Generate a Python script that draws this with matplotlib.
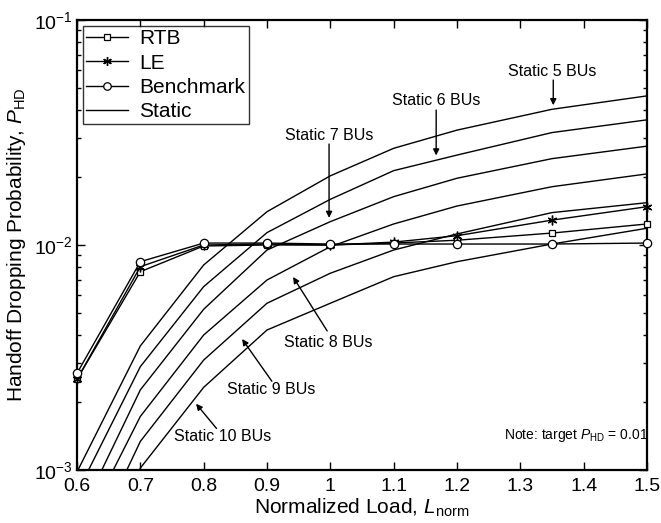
import matplotlib
matplotlib.use("Agg")
import matplotlib.pyplot as plt
import numpy as np
from matplotlib.ticker import LogLocator, FixedLocator, FuncFormatter, NullFormatter

plt.rcParams['font.family'] = ['Liberation Sans', 'DejaVu Sans']
plt.rcParams['mathtext.fontset'] = 'custom'
plt.rcParams['mathtext.rm'] = 'Liberation Sans'
plt.rcParams['mathtext.it'] = 'Liberation Sans:italic'
plt.rcParams['mathtext.bf'] = 'Liberation Sans:bold'

# ---- data ----
load = [0.6, 0.7, 0.8, 0.9, 1.0, 1.1, 1.2, 1.35, 1.5]
rtb = [0.00253, 0.00761, 0.0099, 0.0100, 0.0100, 0.0102, 0.0105, 0.0113, 0.0124]
le = [0.00253, 0.00801, 0.0100, 0.0101, 0.0100, 0.0103, 0.0110, 0.0129, 0.0148]
bench = [0.00269, 0.00843, 0.0102, 0.0102, 0.0101, 0.0101, 0.0101, 0.0101, 0.0102]
static5 = [0.00098, 0.00356, 0.00815, 0.01406, 0.0203, 0.0269, 0.0324, 0.0401, 0.0460]
static6 = [0.00079, 0.00288, 0.00653, 0.01135, 0.01596, 0.0214, 0.0251, 0.0316, 0.0360]
static7 = [0.00059, 0.00227, 0.00518, 0.00950, 0.0127, 0.0164, 0.0198, 0.0242, 0.0275]
static8 = [0.00048, 0.00173, 0.00398, 0.00699, 0.00983, 0.0124, 0.0149, 0.01816, 0.0207]
static9 = [0.00034, 0.00134, 0.00308, 0.00551, 0.00749, 0.0095, 0.0112, 0.01393, 0.01542]
static10 = [0.00022, 0.00102, 0.00233, 0.00419, 0.00551, 0.00723, 0.00843, 0.0101, 0.01187]
statics = [static5, static6, static7, static8, static9, static10]
xticks = [0.6, 0.7, 0.8, 0.9, 1.0, 1.1, 1.2, 1.3, 1.4, 1.5]
xticklabels = ['0.6', '0.7', '0.8', '0.9', '1', '1.1', '1.2', '1.3', '1.4', '1.5']

fig = plt.figure(figsize=(6.61, 5.23), dpi=100)
ax = fig.add_axes([77/661, 1-470/523, 570/661, 450/523])

lw = 1.0
ax.plot(load, rtb, color='black', lw=lw, marker='s', ms=5, mfc='white', mec='black', mew=0.9,
        label='RTB', zorder=4, clip_on=False)
ax.plot(load, le, color='black', lw=lw, marker=(6, 2, 0), ms=7, mec='black', mew=1.0,
        label='LE', zorder=4, clip_on=False)
ax.plot(load, bench, color='black', lw=lw, marker='o', ms=6, mfc='white', mec='black', mew=0.9,
        label='Benchmark', zorder=4, clip_on=False)
for i, s in enumerate(statics):
    ax.plot(load, s, color='black', lw=lw, label='Static' if i == 0 else None, zorder=3)

ax.set_yscale('log')
ax.set_xlim(0.6, 1.5)
ax.set_ylim(1e-3, 1e-1)
ax.xaxis.set_major_locator(FixedLocator(xticks))
ax.set_xticklabels(xticklabels)
ax.yaxis.set_major_locator(LogLocator(base=10, numticks=10))
ax.yaxis.set_minor_locator(LogLocator(base=10, subs=np.arange(2, 10), numticks=20))
ax.yaxis.set_minor_formatter(NullFormatter())
ax.yaxis.set_major_formatter(FuncFormatter(lambda v, p: r'$10^{%d}$' % int(round(np.log10(v)))))
ax.tick_params(which='both', direction='in', top=True, right=True, labelsize=14, width=1.0)
ax.tick_params(which='major', length=6)
ax.tick_params(axis='x', which='major', pad=6)
ax.tick_params(axis='y', which='major', pad=3)
ax.tick_params(which='minor', length=3)
for sp in ax.spines.values():
    sp.set_linewidth(1.6)

ax.set_xlabel(r'Normalized Load, $L_{\mathrm{norm}}$', fontsize=15, labelpad=1)
ax.set_ylabel(r'Handoff Dropping Probability, $P_{\mathrm{HD}}$', fontsize=15, labelpad=4)

leg = ax.legend(loc='upper left', fontsize=15, frameon=True, fancybox=False, edgecolor='black',
                borderpad=0.15, labelspacing=0.25, handlelength=2.0, handletextpad=0.55,
                borderaxespad=0.3, bbox_to_anchor=(0.0, 1.0), markerscale=0.9)
leg.get_frame().set_linewidth(1.0)

arrow = dict(arrowstyle='-|>', color='black', lw=1.0, mutation_scale=9, shrinkA=0, shrinkB=0)
notes = [
    ('Static 5 BUs', (1.3506, 0.0593), (1.352, 0.0541), (1.352, 0.0418)),
    ('Static 6 BUs', (1.1671, 0.0441), (1.1671, 0.0398), (1.1671, 0.0250)),
    ('Static 7 BUs', (0.998, 0.0308), (0.998, 0.0281), (0.998, 0.0132)),
    ('Static 8 BUs', (0.9965, 0.00367), (0.995, 0.00415), (0.9412, 0.00721)),
    ('Static 9 BUs', (0.9065, 0.00227), (0.9077, 0.00248), (0.8607, 0.00382)),
    ('Static 10 BUs', (0.8299, 0.001406), (0.8203, 0.00153), (0.788, 0.00197)),
]
for txt, tpos, tail, tip in notes:
    ax.text(tpos[0], tpos[1], txt, fontsize=11.5, ha='center', va='center')
    ax.annotate('', xy=tip, xytext=tail, arrowprops=arrow)

ax.text(1.388, 0.00143, r'Note: target $P_{\mathrm{HD}}$ = 0.01', fontsize=10, ha='center', va='center')

fig.savefig('out.png', dpi=100)
